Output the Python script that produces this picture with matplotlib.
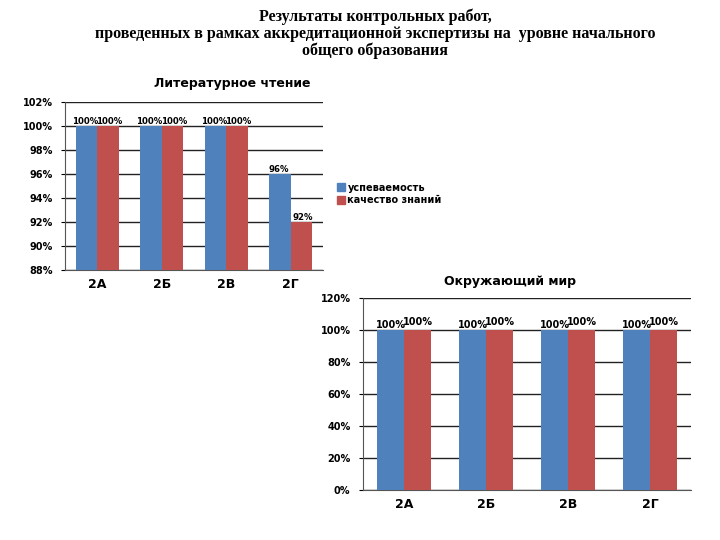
import numpy as np
import matplotlib
matplotlib.use('Agg')
import matplotlib.pyplot as plt
from matplotlib.patches import Patch

classes = ['2А', '2Б', '2В', '2Г']
lit_usp = [100, 100, 100, 96]
lit_kach = [100, 100, 100, 92]
env_usp = [100, 100, 100, 100]
env_kach = [100, 100, 100, 100]
series_names = ['успеваемость', 'качество знаний']

blue = '#4F81BD'
red = '#C0504D'


def draw(ax, usp, kach, ylim, step, bar_w, red_off, lbl_size, shift):
    x = np.arange(len(classes))
    ax.bar(x - bar_w / 2, usp, bar_w, color=blue, zorder=3)
    ax.bar(x + bar_w / 2, kach, bar_w, color=red, zorder=3)
    ax.set_xlim(-0.5, len(classes) - 0.5)
    ax.set_ylim(*ylim)
    ticks = np.arange(ylim[0], ylim[1] + 0.1, step)
    ax.set_yticks(ticks)
    ax.set_yticklabels([f'{int(t)}%' for t in ticks], fontsize=7, fontweight='bold')
    ax.set_xticks(x)
    ax.set_xticklabels(classes, fontsize=9, fontweight='bold')
    ax.tick_params(axis='x', length=0, pad=6)
    ax.tick_params(axis='y', length=3, pad=6)
    ax.grid(axis='y', color='#222222', linewidth=1.0, zorder=0)
    for s in ['top', 'right']:
        ax.spines[s].set_visible(False)
    ax.spines['left'].set_color('#555555')
    ax.spines['bottom'].set_color('#555555')
    for i in range(len(classes)):
        ax.text(x[i] - bar_w / 2 - shift, usp[i], f'{usp[i]}%', ha='center', va='bottom',
                fontsize=lbl_size, fontweight='bold')
        ax.text(x[i] + bar_w / 2 + shift, kach[i] + red_off, f'{kach[i]}%', ha='center',
                va='bottom', fontsize=lbl_size, fontweight='bold')


fig = plt.figure(figsize=(7.2, 5.4), dpi=100)

title_kw = dict(ha='center', va='center', fontsize=11.5, fontweight='bold',
                family='Liberation Serif')
fig.text(375 / 720, 1 - 17 / 540, 'Результаты контрольных работ,', **title_kw)
fig.text(375 / 720, 1 - 34 / 540,
         'проведенных в рамках аккредитационной экспертизы на  уровне начального', **title_kw)
fig.text(375 / 720, 1 - 51 / 540, 'общего образования', **title_kw)

ax1 = fig.add_axes([65 / 720, 270 / 540, 258 / 720, 168 / 540])
draw(ax1, lit_usp, lit_kach, (88, 102), 2, 0.33, 0, 6.2, 0.025)
fig.text(232 / 720, 1 - 83 / 540, 'Литературное чтение', ha='center', va='center',
         fontsize=9, fontweight='bold')

ax2 = fig.add_axes([363 / 720, 50 / 540, 328 / 720, 192 / 540])
draw(ax2, env_usp, env_kach, (0, 120), 20, 0.33, 2, 7, 0.0)
fig.text(510 / 720, 1 - 282 / 540, 'Окружающий мир', ha='center', va='center',
         fontsize=9, fontweight='bold')

handles = [Patch(color=blue, label=series_names[0]), Patch(color=red, label=series_names[1])]
fig.legend(handles=handles, loc='center left', bbox_to_anchor=(328 / 720, 1 - 194 / 540),
           frameon=False, handlelength=0.8, handleheight=0.8,
           handletextpad=0.3, labelspacing=0.3, prop={'weight': 'bold', 'size': 7})

fig.savefig('out.png', dpi=100)
